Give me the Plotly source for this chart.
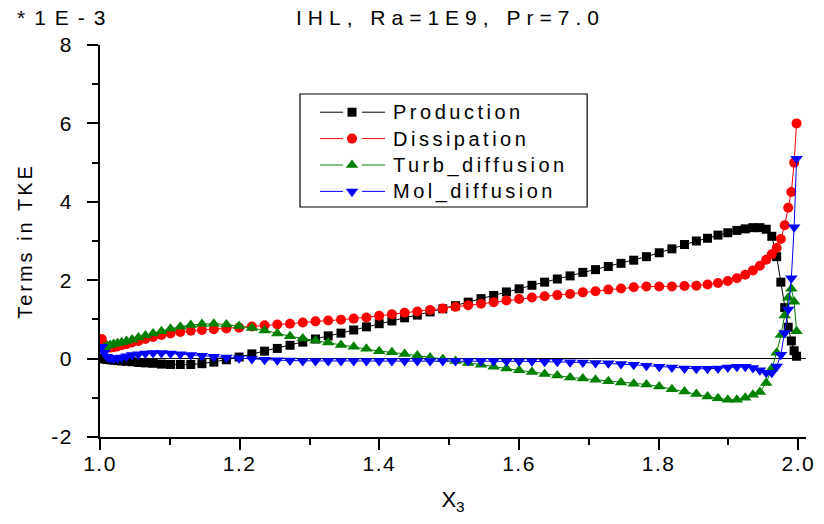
import plotly.graph_objects as go

x3 = [1.0025, 1.0060, 1.0100, 1.0145, 1.0195, 1.0250, 1.0310, 1.0380, 1.0460, 1.0550,
      1.0650, 1.0760, 1.0880, 1.1010, 1.1150, 1.1300, 1.1460, 1.1630,
      1.1810, 1.1992, 1.2175, 1.2357, 1.2539, 1.2721, 1.2904, 1.3086, 1.3268, 1.3451,
      1.3633, 1.3815, 1.3998, 1.4180, 1.4362, 1.4544, 1.4727, 1.4909,
      1.5091, 1.5273, 1.5456, 1.5638, 1.5820, 1.6002, 1.6185, 1.6367, 1.6549, 1.6732,
      1.6914, 1.7096, 1.7279, 1.7461, 1.7643, 1.7825, 1.8008, 1.8190,
      1.8370, 1.8540, 1.8700, 1.8850, 1.8990, 1.9120, 1.9240, 1.9350, 1.9450, 1.9540,
      1.9620, 1.9690, 1.9750, 1.9805, 1.9855, 1.9900, 1.9940, 1.9975]

production = [0.00, -0.01, -0.02, -0.03, -0.04, -0.05, -0.06, -0.07, -0.08, -0.10,
              -0.11, -0.12, -0.14, -0.15, -0.15, -0.15, -0.13, -0.09,
              -0.03, 0.04, 0.12, 0.19, 0.26, 0.34, 0.42, 0.50, 0.58, 0.65,
              0.73, 0.81, 0.89, 0.96, 1.04, 1.11, 1.19, 1.27,
              1.35, 1.44, 1.53, 1.61, 1.70, 1.78, 1.87, 1.95, 2.03, 2.11,
              2.20, 2.27, 2.35, 2.43, 2.51, 2.60, 2.70, 2.80,
              2.91, 3.00, 3.07, 3.15, 3.21, 3.27, 3.31, 3.34, 3.34, 3.30,
              3.12, 2.60, 1.95, 1.30, 0.80, 0.45, 0.20, 0.06]

dissipation = [0.50, 0.36, 0.30, 0.28, 0.29, 0.31, 0.34, 0.37, 0.41, 0.45,
               0.50, 0.55, 0.60, 0.64, 0.68, 0.71, 0.73, 0.75,
               0.77, 0.79, 0.82, 0.85, 0.87, 0.89, 0.92, 0.95, 0.97, 0.99,
               1.02, 1.05, 1.09, 1.13, 1.17, 1.20, 1.24, 1.28,
               1.32, 1.36, 1.40, 1.44, 1.48, 1.52, 1.56, 1.59, 1.62, 1.65,
               1.69, 1.72, 1.76, 1.79, 1.82, 1.84, 1.84, 1.84,
               1.85, 1.86, 1.89, 1.93, 1.98, 2.05, 2.14, 2.25, 2.37, 2.52,
               2.66, 2.82, 3.05, 3.40, 3.85, 4.25, 5.00, 6.00]

turb_diffusion = [0.20, 0.28, 0.32, 0.35, 0.37, 0.39, 0.42, 0.45, 0.49, 0.54,
                  0.59, 0.64, 0.70, 0.76, 0.81, 0.86, 0.88, 0.89,
                  0.87, 0.83, 0.78, 0.72, 0.64, 0.57, 0.51, 0.46, 0.41, 0.35,
                  0.30, 0.25, 0.19, 0.16, 0.12, 0.08, 0.03, -0.01,
                  -0.06, -0.11, -0.16, -0.21, -0.25, -0.30, -0.34, -0.39, -0.43, -0.48,
                  -0.51, -0.54, -0.58, -0.61, -0.64, -0.66, -0.71, -0.78,
                  -0.84, -0.90, -0.97, -1.01, -1.05, -1.05, -1.00, -0.92, -0.85, -0.62,
                  -0.25, 0.15, 0.60, 1.10, 1.55, 1.78, 1.45, 0.70]

mol_diffusion = [0.30, 0.15, 0.05, 0.01, 0.00, 0.01, 0.03, 0.06, 0.09, 0.11,
                 0.13, 0.14, 0.14, 0.13, 0.11, 0.09, 0.07, 0.05,
                 0.03, 0.01, -0.01, -0.03, -0.04, -0.05, -0.06, -0.06, -0.06, -0.06,
                 -0.06, -0.06, -0.06, -0.06, -0.06, -0.06, -0.06, -0.06,
                 -0.06, -0.06, -0.06, -0.06, -0.07, -0.07, -0.07, -0.08, -0.08, -0.09,
                 -0.10, -0.11, -0.12, -0.14, -0.16, -0.18, -0.21, -0.23,
                 -0.25, -0.26, -0.26, -0.25, -0.23, -0.21, -0.21, -0.24, -0.30, -0.36,
                 -0.36, -0.20, 0.10, 0.65, 1.25, 2.05, 3.35, 5.10]

series_names = ["Production", "Dissipation", "Turb_diffusion", "Mol_diffusion"]
series_values = [production, dissipation, turb_diffusion, mol_diffusion]
series_colors = ["#000000", "#ff0000", "#008000", "#0000ff"]
series_symbols = ["square", "circle", "triangle-up", "triangle-down"]
series_sizes = [9, 10, 11, 11]

x_tick_vals = [1.0, 1.2, 1.4, 1.6, 1.8, 2.0]
x_tick_text = ["1.0", "1.2", "1.4", "1.6", "1.8", "2.0"]
y_tick_vals = [-2, 0, 2, 4, 6, 8]
y_tick_text = ["-2", "0", "2", "4", "6", "8"]

title_text = "IHL, Ra=1E9, Pr=7.0"
scale_text = "*1E-3"
y_title = "Terms in TKE"
x_title = "X<sub>3</sub>"

FONT = "Arial, Liberation Sans, sans-serif"

fig = go.Figure()
for name, vals, col, sym, sz in zip(series_names, series_values, series_colors,
                                    series_symbols, series_sizes):
    fig.add_trace(go.Scatter(
        x=x3, y=vals, name=name, mode="lines+markers",
        line=dict(color=col, width=1),
        marker=dict(symbol=sym, size=sz, color=col, line=dict(width=0)),
    ))

fig.update_layout(
    width=824, height=524,
    margin=dict(l=100, r=11, t=45, b=87),
    paper_bgcolor="white", plot_bgcolor="white",
    font=dict(family=FONT, color="black", size=20),
    title=dict(text=title_text, x=0.3592, xref="container", xanchor="left",
               y=0.967, yref="container", yanchor="middle",
               font=dict(size=21, family=FONT, color="black")),
    showlegend=True,
    legend=dict(x=0.2833, y=0.875, xanchor="left", yanchor="top",
                xref="paper", yref="paper",
                bgcolor="rgba(255,255,255,0)", borderwidth=0,
                font=dict(size=18, family=FONT, color="black"),
                itemwidth=60, tracegroupgap=0),
    shapes=[dict(type="rect", xref="paper", yref="paper",
                 x0=0.2833, x1=0.690, y0=0.5867, y1=0.875,
                 line=dict(color="black", width=1.2), fillcolor="rgba(0,0,0,0)")],
    annotations=[dict(text=scale_text, xref="paper", yref="paper",
                      x=-0.1192, y=1.0714, xanchor="left", yanchor="middle",
                      align="left", borderpad=0,
                      showarrow=False, font=dict(size=21, family=FONT, color="black"))],
)

fig.update_xaxes(
    range=[1.0, 2.011], showline=True, linecolor="black", linewidth=1.5,
    showgrid=False, zeroline=False, mirror=False,
    tickmode="array", tickvals=x_tick_vals, ticktext=x_tick_text,
    ticks="outside", ticklen=11, tickwidth=1.5, tickcolor="black",
    minor=dict(tickvals=[1.1, 1.3, 1.5, 1.7, 1.9], ticks="outside", ticklen=6,
               tickwidth=1.5, tickcolor="black", showgrid=False),
    tickfont=dict(size=21, family=FONT, color="black"),
    ticklabelstandoff=0,
    title=dict(text=x_title, font=dict(size=22, family=FONT, color="black"), standoff=14),
)
fig.update_yaxes(
    range=[-2, 8], showline=True, linecolor="black", linewidth=1.5,
    showgrid=False, zeroline=True, zerolinecolor="black", zerolinewidth=1,
    tickmode="array", tickvals=y_tick_vals, ticktext=y_tick_text,
    ticks="outside", ticklen=11, tickwidth=1.5, tickcolor="black",
    minor=dict(tickvals=[-1, 1, 3, 5, 7], ticks="outside", ticklen=6,
               tickwidth=1.5, tickcolor="black", showgrid=False),
    tickfont=dict(size=21, family=FONT, color="black"),
    ticklabelstandoff=10,
    title=dict(text=y_title, font=dict(size=20, family=FONT, color="black"), standoff=16),
)

post = """
var gd = document.getElementById('{plot_id}');
function setLS(sel, v){
  gd.querySelectorAll(sel).forEach(function(t){ t.style.letterSpacing = v; });
}
function fix(){
  setLS('.gtitle', '6px');
  setLS('.annotation-text', '9px');
  setLS('.xtick text', '1.5px');
  setLS('.ytick text', '1.5px');
  setLS('.ytitle', '3px');
  setLS('.legendtext', '3.5px');
  gd.querySelectorAll('.xtick text').forEach(function(t){
    if (!t.getAttribute('data-shifted')) {
      var y = parseFloat(t.getAttribute('y') || '0');
      t.setAttribute('y', String(y - 4));
      t.setAttribute('data-shifted', '1');
    }
  });
  gd.querySelectorAll('.legend, .legend .scrollbox').forEach(function(s){
    s.removeAttribute('clip-path');
  });
  gd.querySelectorAll('.legend .legendlines path').forEach(function(p){
    p.setAttribute('d', 'M20,0h23M62,0h23');
  });
  gd.querySelectorAll('.legend .legendpoints path').forEach(function(p){
    p.setAttribute('transform', 'translate(52,0)');
  });
  gd.querySelectorAll('.legend .legendtext').forEach(function(t){
    t.setAttribute('x', '93');
    t.style.fontSize = '20px';
  });
}
fix();
gd.on('plotly_afterplot', fix);
"""
fig.write_html("out.html", post_script=post)
